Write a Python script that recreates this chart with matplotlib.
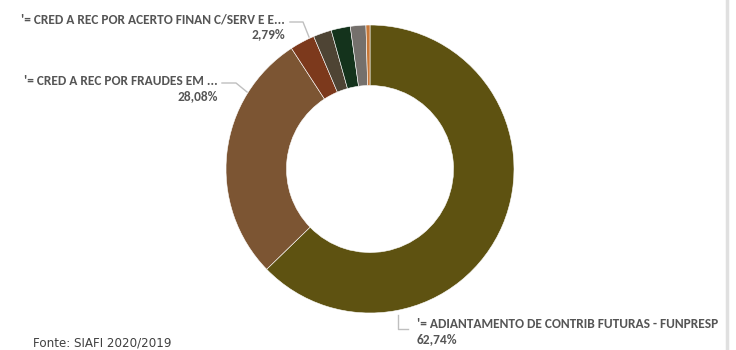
import matplotlib
matplotlib.use("Agg")
import matplotlib.pyplot as plt
from matplotlib.lines import Line2D

categories = [
    "'= ADIANTAMENTO DE CONTRIB FUTURAS - FUNPRESP",
    "'= CRED A REC POR FRAUDES EM ...",
    "'= CRED A REC POR ACERTO FINAN C/SERV E E...",
    "Outros 1",
    "Outros 2",
    "Outros 3",
    "Outros 4",
]
values = [62.74, 28.08, 2.79, 2.05, 2.15, 1.74, 0.45]
pct_labels = ["62,74%", "28,08%", "2,79%"]
colors = ["#5E5211", "#7C5533", "#7C391C", "#4E4434", "#14331C", "#75706C", "#C87838"]

W, H = 736, 350
fig = plt.figure(figsize=(W / 100, H / 100), dpi=100)

cx, cy, r = 370, 169, 144
ax = fig.add_axes([(cx - r) / W, (H - cy - r) / H, 2 * r / W, 2 * r / H])
ax.pie(values, colors=colors, startangle=90, counterclock=False, radius=1,
       wedgeprops=dict(width=0.42, edgecolor="white", linewidth=0.4))
ax.set_xlim(-1, 1)
ax.set_ylim(-1, 1)
ax.axis("off")

fam = ["Carlito", "DejaVu Sans"]
tc = "#555555"

def fx(x):
    return x / W

def fy(y):
    return 1 - y / H

def txt(x, y, s, ha, **kw):
    fig.text(fx(x), fy(y), s, ha=ha, va="center", color=tc, family=fam,
             fontsize=9.6, fontweight="bold", **kw)

def line(xs, ys):
    fig.add_artist(Line2D([fx(v) for v in xs], [fy(v) for v in ys],
                          color="#bfbfbf", linewidth=1.0, transform=fig.transFigure))

# label for 2.79%
txt(285, 19, categories[2], "right")
txt(285, 34, pct_labels[2], "right")
line([290, 303, 309], [22, 22, 37])

# label for 28.08%
txt(218, 81, categories[1], "right")
txt(218, 96, pct_labels[1], "right")
line([222, 236, 247], [83, 83, 92])

# label for 62.74%
txt(417, 324, categories[0], "left")
txt(417, 339, pct_labels[0], "left")
line([398, 398, 408], [315, 329, 329])

fig.text(fx(33), fy(343), "Fonte: SIAFI 2020/2019", ha="left", va="center",
         color="#404040", family=["DejaVu Sans"], fontsize=8.6)

# right border line
fig.add_artist(Line2D([fx(727), fx(727)], [0, 1], color="#e0e0e0", linewidth=2.5,
                      transform=fig.transFigure))

fig.savefig("out.png", dpi=100)
